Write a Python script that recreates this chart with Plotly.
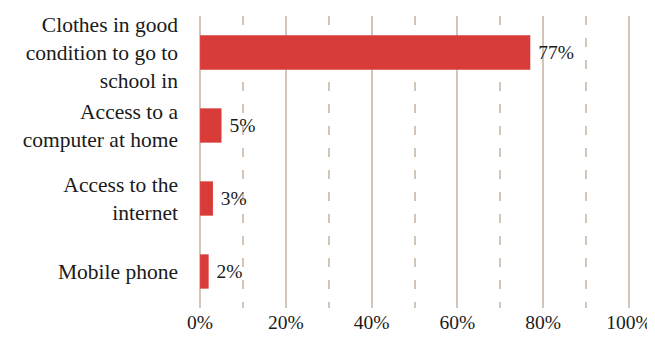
import plotly.graph_objects as go

categories = ["Clothes in good<br>condition to go to<br>school in",
              "Access to a<br>computer at home",
              "Access to the<br>internet",
              "Mobile phone"]
values = [77, 5, 3, 2]
labels = ["77%", "5%", "3%", "2%"]
x_ticks = [0, 20, 40, 60, 80, 100]
x_tick_text = ["0%", "20%", "40%", "60%", "80%", "100%"]

FONT = "Liberation Serif"
GRID = "#d3c6b6"

fig = go.Figure(go.Bar(
    y=categories, x=values, orientation="h",
    marker=dict(color="#d93c38", line=dict(width=0)),
    text=labels, texttemplate=" %{text}", textposition="outside", cliponaxis=False,
    textfont=dict(family=FONT, size=19.5, color="#1a1a1a"),
    width=0.47,
))

# page body adds an 8px offset; margins compensate so the plot area sits at x 199-630, y 17-309
fig.update_layout(
    width=655, height=341,
    margin=dict(l=191, r=33, t=8, b=41),
    plot_bgcolor="white", paper_bgcolor="white",
    font=dict(family=FONT, size=19, color="#1a1a1a"),
    showlegend=False,
)
fig.update_xaxes(
    range=[-0.25, 100.25], tickvals=x_ticks, ticktext=x_tick_text,
    showgrid=True, gridcolor=GRID, gridwidth=1.5,
    zeroline=False, showline=False, ticks="", automargin=False,
    minor=dict(dtick=10, tick0=0, showgrid=True, gridcolor=GRID, gridwidth=1.5, griddash="9px,13px"),
    tickfont=dict(family=FONT, size=19.5, color="#1a1a1a"),
)
fig.update_yaxes(
    autorange="reversed", showgrid=False, zeroline=False, showline=False,
    ticks="", ticklabelstandoff=20, automargin=False,
    tickfont=dict(family=FONT, size=21.5, color="#1a1a1a"),
)

fig.write_html("out.html")
